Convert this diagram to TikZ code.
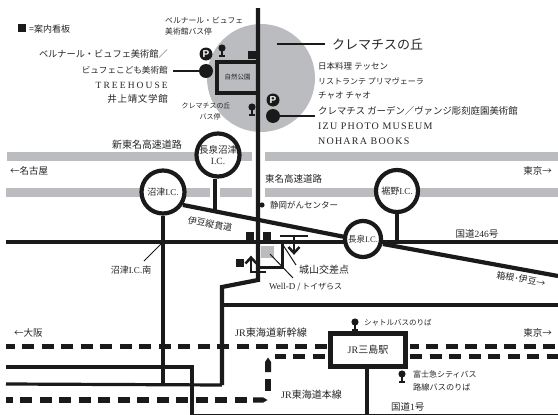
\documentclass[tikz,border=0pt]{standalone}
\usepackage{fontspec}
\setmainfont{Liberation Serif}
\newfontfamily\cjk{Noto Sans CJK JP}
\newfontfamily\cjksp[LetterSpace=7]{Noto Sans CJK JP}
\newfontfamily\latsp[LetterSpace=12]{Liberation Serif}
\newfontfamily\latspb[LetterSpace=22]{Liberation Serif}
\newfontfamily\pfont{Liberation Sans}
\newcommand\fsz[1]{\fontsize{#1}{#1}\selectfont}
\newcommand\lat[1]{{\rmfamily #1}}
\definecolor{ink}{HTML}{1A1A1A}
\definecolor{tc}{HTML}{262626}
\definecolor{bar}{HTML}{BBBCBF}
\tikzset{
  road/.style={draw=ink,line width=4.2pt},
  thin road/.style={draw=ink,line width=3.2pt},
  leader/.style={draw=ink,line width=1pt},
  pointer/.style={draw=ink,line width=2pt},
  rail/.style={draw=ink,line width=5.4pt,dash pattern=on 12pt off 7.5pt},
  ic/.style={circle,draw=ink,line width=4.2pt,fill=white,inner sep=0pt,align=center,text=tc,font=\cjk\fsz{9.5}},
  sign/.style={fill=ink,inner sep=0pt,minimum size=8pt},
  pmark/.style={circle,fill=ink,text=white,inner sep=0pt,minimum size=13pt,font=\pfont\bfseries\fsz{10}},
  spot/.style={circle,fill=ink,inner sep=0pt,minimum size=14pt},
  lbl/.style={text=tc,inner sep=0pt,font=\cjk\fsz{#1}},
  lbl/.default=9,
  busstop/.pic={
    \fill[ink] (0,0) circle (3.6);
    \draw[ink,line width=1.3pt] (0,0) -- (0,8);
    \draw[ink,line width=1.3pt] (-2.8,8) -- (2.8,8);
  }
}
\begin{document}
\begin{tikzpicture}[x=1pt,y=-1pt]
\useasboundingbox (0,0) rectangle (558,415);
\fill[white] (0,0) rectangle (558,415);

% hill area
\fill[bar] (261,78) circle (54);

% expressways
\fill[bar] (7,152) rectangle (252,161);
\fill[bar] (265,152) rectangle (558,161);
\fill[bar] (6,188) rectangle (210,197);
\fill[bar] (220,188) rectangle (252,197);
\fill[bar] (265,188) rectangle (558,197);

% named junctions
\coordinate (rtw) at (6,242);
\coordinate (rte) at (558,242);
\coordinate (izuw) at (183,205);
\coordinate (izue) at (345,237);
\coordinate (hakw) at (383,244);
\coordinate (hake) at (558,276);
\coordinate (mtop) at (258,8);
\coordinate (mbot) at (258,280);
\coordinate (bend) at (222,287);
\coordinate (corner) at (222,385);
\coordinate (lowl) at (6,384);
\coordinate (midr) at (558,305);
\coordinate (midl) at (222,305);
\coordinate (nsouth) at (163,384);
\coordinate (up1) at (6,367);
\coordinate (up2) at (192,367);
\coordinate (up3) at (192,415.3);
\coordinate (up4) at (558,415.3);

% roads
\draw[road] (rtw) -- (rte);
\draw[road] (izuw) -- (izue);
\draw[road] (hakw) -- (hake);
\draw[road] (mtop) -- (mbot) -- (bend) -- (corner);
\draw[thin road] (corner) -- (lowl);
\draw[road] (midl) -- (midr);
\draw[thin road] (up1) -- (up2) -- (up3) -- (up4);

% rail
\draw[rail,dash phase=3.5pt] (6,346.5) -- (329,346.5);
\draw[rail,dash phase=3.5pt] (410,346.5) -- (558,346.5);
\draw[rail,dash phase=1.5pt] (275,356.5) -- (329,356.5);
\draw[rail] (410,356.5) -- (558,356.5);
\draw[rail,dash phase=5.5pt] (6,400) -- (250,400);
\fill[ink] (253,397.3) -- (263,397.3) -- (267.5,400) -- (263,402.7) -- (253,402.7) -- cycle;
\fill[ink] (265,372) -- (265,362) -- (268,357.5) -- (271,362) -- (271,372) -- cycle;
\fill[ink] (265,379) rectangle (271,391);

% interchanges
\node[ic,minimum size=43pt] (nn) at (218,155) {長泉沼津\\[1pt]\lat{I.C.}};
\node[ic,minimum size=43pt] (nu) at (163,192) {\fsz{9}沼津\lat{I.C.}};
\node[ic,minimum size=42pt] (su) at (397,191) {\fsz{9}裾野\lat{I.C.}};
\node[ic,minimum size=36pt] (na) at (363,239) {\fsz{8.5}長泉\lat{I.C.}};

\coordinate (nnfoot) at (215,213);
\coordinate (sufoot) at (397,241);
\draw[road] (nn.south -| nnfoot) -- (nnfoot);
\draw[road] (su.south) -- (sufoot);
\draw[road] (nu.south) -- (nsouth);

% park
\node[draw=ink,line width=3.5pt,minimum width=41pt,minimum height=31pt,inner sep=0pt,
      font=\cjk\fsz{6.5},text=tc] (park) at (237.5,77.5) {自然公園};

% spots and markers
\node[pmark] (p1) at (206,54) {P};
\node[spot] (s1) at (206,71) {};
\node[pmark] (p2) at (273,100) {P};
\node[spot] (s2) at (273,116) {};
\coordinate (s1l) at (173,71);
\coordinate (s2r) at (315,116);
\coordinate (tl1) at (277,44);
\coordinate (tl2) at (325,44);
\draw[pointer] (s1) -- (s1l);
\draw[pointer] (s2) -- (s2r);
\draw[pointer] (tl1) -- (tl2);
\pic at (222,48) {busstop};
\pic at (252,107) {busstop};
\pic at (355,322) {busstop};
\pic at (402,374) {busstop};

\node[sign] (k0) at (21.5,28) {};
\node[sign] (k1) at (252,55) {};
\node[sign] (k2) at (250,236) {};
\node[sign] (k3) at (267,236) {};
\node[sign] (k4) at (240,263) {};

% Shiroyama junction
\fill[bar] (261,246) rectangle (274,258);
\coordinate (b1) at (282,242);
\coordinate (b2) at (282,267);
\coordinate (b3) at (258,267);
\draw[draw=ink,line width=3pt] (b1) -- (b2) -- (b3);
\draw[draw=ink,line width=2.5pt] (266,272) -- (251,272) -- (251,258);
\draw[draw=ink,line width=2.5pt,line join=miter] (245.5,263.5) -- (251,257.5) -- (256.5,263.5);
\draw[draw=ink,line width=2.5pt] (280,236) -- (294,236);
\draw[draw=ink,line width=1.3pt] (294,236) -- (308,236);
\draw[draw=ink,line width=2.5pt] (294,236) -- (294,252);
\draw[draw=ink,line width=2.5pt,line join=miter] (288.5,247) -- (294,253) -- (299.5,247);
\coordinate (c1) at (283,245);
\coordinate (c2) at (296,265);
\coordinate (d1) at (270,254);
\coordinate (d2) at (293,278);
\draw[leader] (c1) -- (c2);
\draw[leader] (d1) -- (d2);

% Numazu south leader
\coordinate (e1) at (163,242);
\coordinate (e2) at (144,261);
\draw[leader] (e1) -- (e2);

% station
\node[draw=ink,fill=white,line width=4.2pt,minimum width=75pt,minimum height=33pt,inner sep=0pt,
      text=tc,font=\cjk\fsz{10}] (st) at (368,350) {\lat{JR}三島駅};
\coordinate (stfoot) at (367,415);
\draw[road] (st.south -| stfoot) -- (stfoot);

% ---- labels ----
\node[lbl=9,anchor=west] (t0) at (29,29) {=案内看板};
\node[lbl=7.8,anchor=west] (t1) at (165,20) {ベルナール・ビュフェ};
\node[lbl=7.8,anchor=west] (t2) at (165,32) {美術館バス停};
\node[lbl=9.2,anchor=east] (t3) at (168,54) {ベルナール・ビュフェ美術館／};
\node[lbl=8.6,anchor=east] (t4) at (168,70) {ビュフェこども美術館};
\node[lbl=9,anchor=east,font=\latspb\fsz{9.5}] (t5) at (168,85) {TREEHOUSE};
\node[lbl=9.5,anchor=east,font=\cjksp\fsz{9.5}] (t6) at (168,99) {井上靖文学館};
\node[lbl=7,anchor=center] (t7) at (206,106) {クレマチスの丘};
\node[lbl=7,anchor=center] (t8) at (210,117) {バス停};

\node[lbl=13,anchor=west] (h) at (332,44) {クレマチスの丘};
\node[lbl=8.5,anchor=west] (l1) at (318,66) {日本料理 テッセン};
\node[lbl=8,anchor=west] (l2) at (318,81) {リストランテ プリマヴェーラ};
\node[lbl=8.5,anchor=west] (l3) at (318,96) {チャオ チャオ};
\node[lbl=9.4,anchor=west] (l4) at (318,111) {クレマチス ガーデン／ヴァンジ彫刻庭園美術館};
\node[lbl=9,anchor=west,font=\latsp\fsz{10}] (l5) at (318,126) {IZU PHOTO MUSEUM};
\node[lbl=9,anchor=west,font=\latsp\fsz{10}] (l6) at (318,141) {NOHARA BOOKS};

\node[lbl=10,anchor=center] (r1) at (147,145) {新東名高速道路};
\node[lbl=9.5,anchor=west] (r2) at (10,171) {←名古屋};
\node[lbl=9.5,anchor=west] (r3) at (265,179) {東名高速道路};
\node[lbl=9.5,anchor=east] (r4) at (552,171) {東京→};
\fill[ink] (262,205) circle (2.6);
\node[lbl=8.5,anchor=west] (r5) at (270,205) {静岡がんセンター};
\node[lbl=9,rotate=-11] (r6) at (210,224) {伊豆縦貫道};
\node[lbl=9.5] (r7) at (477,234) {国道\lat{246}号};
\node[lbl=9,rotate=-10] (r8) at (521,279) {箱根･伊豆→};
\node[lbl=9] (r9) at (131,270) {沼津\lat{I.C.}南};
\node[lbl=10,anchor=west] (r10) at (299,270) {城山交差点};
\node[lbl=8,anchor=west] (r11) at (269,287) {\lat{\fsz{9}Well-D} / トイザらス};

\node[lbl=9.5,anchor=west] (q1) at (14,333) {←大阪};
\node[lbl=10.2,anchor=west] (q2) at (235,333) {\lat{\fsz{10}JR}東海道新幹線};
\node[lbl=9.5,anchor=east] (q3) at (552,333) {東京→};
\node[lbl=7.5,anchor=west] (q4) at (364,323) {シャトルバスのりば};
\node[lbl=8,anchor=west] (q5) at (413,374) {富士急シティバス};
\node[lbl=8.2,anchor=west] (q6) at (413,387) {路線バスのりば};
\node[lbl=10,anchor=west] (q7) at (281,395) {\lat{JR}東海道本線};
\node[lbl=9.5,anchor=west] (q8) at (391,407) {国道\lat{1}号};
\end{tikzpicture}
\end{document}
